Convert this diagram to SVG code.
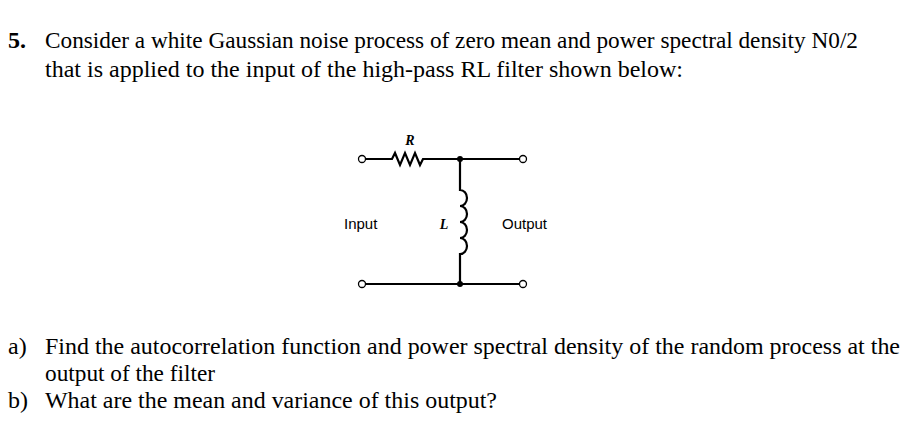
<svg xmlns="http://www.w3.org/2000/svg" width="910" height="433" viewBox="0 0 910 433">
<style>
.t{font-family:"Liberation Serif",serif;font-size:24px;fill:#000}
.c{font-family:"Liberation Sans",sans-serif;font-size:15px;fill:#000}
.i{font-family:"Liberation Serif",serif;font-size:14px;font-style:italic;font-weight:bold;fill:#000}
.w{stroke:#000;stroke-width:2.2;fill:none}
.term{fill:#fff;stroke:#000;stroke-width:1.3}
</style>
<rect width="910" height="433" fill="#fff"/>
<text class="t" x="8" y="48" font-weight="bold">5.</text>
<text class="t" x="45" y="48" textLength="813" lengthAdjust="spacingAndGlyphs">Consider a white Gaussian noise process of zero mean and power spectral density N0/2</text>
<text class="t" x="45" y="77" textLength="638" lengthAdjust="spacingAndGlyphs">that is applied to the input of the high-pass RL filter shown below:</text>
<g id="connectors">
<path class="w" d="M365 159H392l3-6 5 12 5-12 5 12 5-12 5 12 3-6H520"/>
<path class="w" d="M460 159V190a7 8 0 0 1 0 16a7 8 0 0 1 0 16a7 8 0 0 1 0 16a7 8 0 0 1 0 16V284"/>
<path class="w" d="M365 284H520"/>
</g>
<g id="nodeTop"><circle cx="460" cy="159" r="3"/></g>
<g id="nodeBot"><circle cx="460" cy="284" r="3"/></g>
<g id="t1"><circle class="term" cx="362" cy="159" r="3.5"/></g>
<g id="t2"><circle class="term" cx="523" cy="159" r="3.5"/></g>
<g id="t3"><circle class="term" cx="362" cy="284" r="3.5"/></g>
<g id="t4"><circle class="term" cx="523" cy="284" r="3.5"/></g>
<g id="R"><text class="i" x="410" y="145" text-anchor="middle">R</text></g>
<g id="L"><text class="i" x="444" y="229" text-anchor="middle">L</text></g>
<g id="in"><text class="c" x="344" y="229">Input</text></g>
<g id="out"><text class="c" x="502" y="229">Output</text></g>
<text class="t" x="8" y="354">a)</text>
<text class="t" x="45" y="354" textLength="855" lengthAdjust="spacingAndGlyphs">Find the autocorrelation function and power spectral density of the random process at the</text>
<text class="t" x="45" y="381" textLength="170" lengthAdjust="spacingAndGlyphs">output of the filter</text>
<text class="t" x="8" y="408">b)</text>
<text class="t" x="45" y="408" textLength="452" lengthAdjust="spacingAndGlyphs">What are the mean and variance of this output?</text>
</svg>
